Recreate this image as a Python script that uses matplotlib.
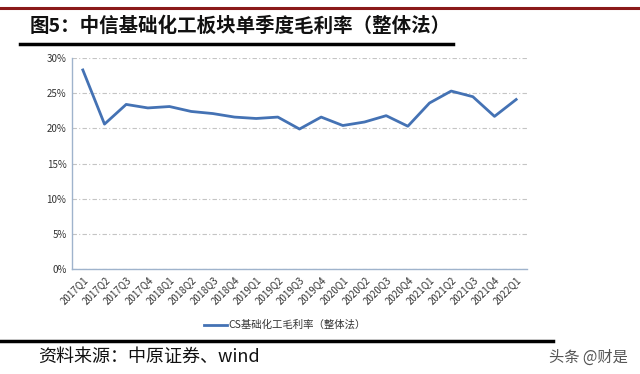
import matplotlib.pyplot as plt
from matplotlib.lines import Line2D
from matplotlib.ticker import FuncFormatter

plt.rcParams['font.family'] = ['Noto Sans CJK SC', 'DejaVu Sans']

quarters = ['2017Q1', '2017Q2', '2017Q3', '2017Q4', '2018Q1', '2018Q2', '2018Q3',
            '2018Q4', '2019Q1', '2019Q2', '2019Q3', '2019Q4', '2020Q1', '2020Q2',
            '2020Q3', '2020Q4', '2021Q1', '2021Q2', '2021Q3', '2021Q4', '2022Q1']
margin = [28.3, 20.6, 23.4, 22.9, 23.1, 22.4, 22.1, 21.6, 21.4, 21.6, 19.9,
          21.6, 20.4, 20.9, 21.8, 20.3, 23.6, 25.3, 24.5, 21.7, 24.1]
yticks = [0, 5, 10, 15, 20, 25, 30]

W, H = 640, 374
fig = plt.figure(figsize=(W / 100, H / 100), dpi=100)

# header / footer rules
fig.add_artist(Line2D([0, 1], [1 - 8 / H, 1 - 8 / H], color='#8B1A1A', lw=2.2))
fig.add_artist(Line2D([20 / W, 453 / W], [1 - 44 / H, 1 - 44 / H], color='black', lw=2.5))
fig.add_artist(Line2D([0, 553 / W], [1 - 341 / H, 1 - 341 / H], color='black', lw=2.5))

fig.text(30 / W, 1 - 26 / H, '图5：中信基础化工板块单季度毛利率（整体法）',
         fontsize=14, fontweight='bold', va='center', ha='left', color='#111111')
fig.text(38 / W, 1 - 357 / H, '资料来源：中原证券、wind', fontsize=13,
         va='center', ha='left', color='#111111')
fig.text(628 / W, 1 - 357 / H, '头条 @财是', fontsize=11, va='center', ha='right',
         color='#555555')

ax = fig.add_axes([72 / W, 1 - 269 / H, (527 - 72) / W, (269 - 58) / H])
x = list(range(len(quarters)))
ax.plot(x, margin, color='#4472B4', lw=2, label='CS基础化工毛利率（整体法）')
ax.set_xlim(-0.5, len(quarters) - 0.5)
ax.set_ylim(0, 30)
ax.set_yticks(yticks)
ax.yaxis.set_major_formatter(FuncFormatter(lambda v, p: f'{v:.0f}%'))
ax.set_xticks(x)
ax.set_xticklabels(quarters, rotation=45, ha='right', rotation_mode='anchor')
ax.tick_params(axis='both', length=0, labelsize=7, colors='#333333', pad=4)
ax.grid(axis='y', color='#C4C4C4', lw=0.8, linestyle=(0, (4, 2, 1, 2)))
for s in ['top', 'right']:
    ax.spines[s].set_visible(False)
for s in ['left', 'bottom']:
    ax.spines[s].set_color('#9FB3CC')
    ax.spines[s].set_linewidth(1)

leg = fig.legend(loc='center', bbox_to_anchor=(285 / W, 1 - 325 / H), frameon=False,
                 fontsize=7.5, handlelength=2.2, handletextpad=0.2)
for t in leg.get_texts():
    t.set_color('#333333')

fig.savefig('out.png', dpi=100)
